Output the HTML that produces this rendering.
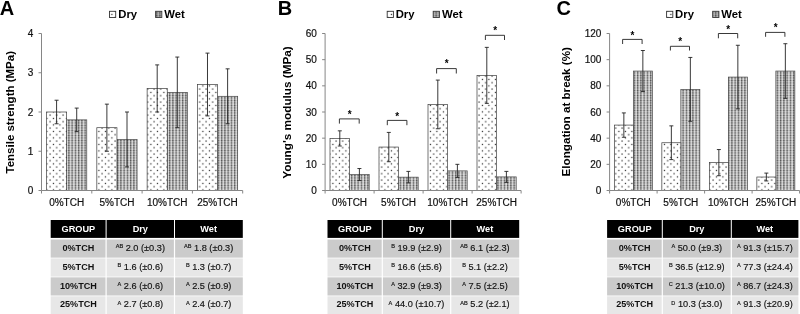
<!DOCTYPE html>
<html><head><meta charset="utf-8"><title>Figure</title>
<style>
html,body{margin:0;padding:0;background:#fff;}
body{width:800px;height:314px;overflow:hidden;}
svg{display:block;font-family:"Liberation Sans",Arial,sans-serif;}
.t{font-size:10px;fill:#111;stroke:#111;stroke-width:0.2px;}
.yl{font-size:11.7px;font-weight:bold;fill:#000;}
.lg{font-size:11.3px;font-weight:bold;fill:#000;}
.pl{font-size:20px;font-weight:bold;fill:#000;}
.st{font-size:10px;font-weight:bold;fill:#000;}
.th{font-size:9.2px;font-weight:bold;fill:#fff;}
.tg{font-size:9.1px;font-weight:bold;fill:#111;}
.td{font-size:9.2px;fill:#111;stroke:#111;stroke-width:0.15px;}
.sup{font-size:5.6px;}
</style></head><body>
<svg width="800" height="314" viewBox="0 0 800 314">
<defs>
<pattern id="pd" width="6.5" height="6.5" patternUnits="userSpaceOnUse">
<rect width="6.5" height="6.5" fill="#fff"/>
<rect x="0.8" y="0.8" width="1.2" height="1.2" fill="#1c1c1c"/>
<rect x="4.05" y="4.05" width="1.2" height="1.2" fill="#1c1c1c"/>
</pattern>
<pattern id="pw" width="3.25" height="2.5" patternUnits="userSpaceOnUse">
<rect width="3.25" height="2.5" fill="#dcdcdc"/>
<rect x="0" y="0" width="1.3" height="2.5" fill="#868686"/>
<rect x="0" y="0" width="3.25" height="0.9" fill="#c0c0c0"/>
<rect x="0" y="0" width="1.3" height="0.9" fill="#505050"/>
</pattern>
</defs>
<rect width="800" height="314" fill="#fff"/>

<g>
<text class="pl" x="-0.3" y="14.7">A</text>
<rect x="109.5" y="11.3" width="6.2" height="6.2" fill="url(#pd)" stroke="#333" stroke-width="0.9"/>
<text class="lg" x="118.3" y="17.6">Dry</text>
<rect x="155.6" y="11.3" width="6.2" height="6.2" fill="url(#pw)" stroke="#333" stroke-width="0.9"/><rect x="155.6" y="11.3" width="6.2" height="6.2" fill="#555" fill-opacity="0.3"/>
<text class="lg" x="164.3" y="17.6">Wet</text>
<text class="yl" textLength="122.5" lengthAdjust="spacingAndGlyphs" transform="translate(14,173.5) rotate(-90)">Tensile strength (MPa)</text>
<rect x="66.65" y="119.85" width="20.12" height="70.65" fill="url(#pw)" stroke="#484848" stroke-width="0.7"/>
<path d="M76.71 108.08V131.62M74.71 108.08h4M74.71 131.62h4" stroke="#222" stroke-width="0.9" fill="none"/>
<rect x="46.53" y="112" width="20.12" height="78.5" fill="url(#pd)" stroke="#3c3c3c" stroke-width="0.7"/>
<path d="M56.59 100.23V123.78M54.59 100.23h4M54.59 123.78h4" stroke="#222" stroke-width="0.9" fill="none"/>
<text class="t" text-anchor="middle" x="66.65" y="206.2">0%TCH</text>
<rect x="116.95" y="139.47" width="20.12" height="51.03" fill="url(#pw)" stroke="#484848" stroke-width="0.7"/>
<path d="M127.01 112V166.95M125.01 112h4M125.01 166.95h4" stroke="#222" stroke-width="0.9" fill="none"/>
<rect x="96.83" y="127.7" width="20.12" height="62.8" fill="url(#pd)" stroke="#3c3c3c" stroke-width="0.7"/>
<path d="M106.89 104.15V151.25M104.89 104.15h4M104.89 151.25h4" stroke="#222" stroke-width="0.9" fill="none"/>
<text class="t" text-anchor="middle" x="116.95" y="206.2">5%TCH</text>
<rect x="167.25" y="92.38" width="20.12" height="98.12" fill="url(#pw)" stroke="#484848" stroke-width="0.7"/>
<path d="M177.31 57.05V127.7M175.31 57.05h4M175.31 127.7h4" stroke="#222" stroke-width="0.9" fill="none"/>
<rect x="147.13" y="88.45" width="20.12" height="102.05" fill="url(#pd)" stroke="#3c3c3c" stroke-width="0.7"/>
<path d="M157.19 64.9V112M155.19 64.9h4M155.19 112h4" stroke="#222" stroke-width="0.9" fill="none"/>
<text class="t" text-anchor="middle" x="167.25" y="206.2">10%TCH</text>
<rect x="217.55" y="96.3" width="20.12" height="94.2" fill="url(#pw)" stroke="#484848" stroke-width="0.7"/>
<path d="M227.61 68.83V123.78M225.61 68.83h4M225.61 123.78h4" stroke="#222" stroke-width="0.9" fill="none"/>
<rect x="197.43" y="84.52" width="20.12" height="105.98" fill="url(#pd)" stroke="#3c3c3c" stroke-width="0.7"/>
<path d="M207.49 53.12V115.92M205.49 53.12h4M205.49 115.92h4" stroke="#222" stroke-width="0.9" fill="none"/>
<text class="t" text-anchor="middle" x="217.55" y="206.2">25%TCH</text>
<text class="t" text-anchor="end" x="33.3" y="194.1">0</text>
<text class="t" text-anchor="end" x="33.3" y="154.85">1</text>
<text class="t" text-anchor="end" x="33.3" y="115.6">2</text>
<text class="t" text-anchor="end" x="33.3" y="76.35">3</text>
<text class="t" text-anchor="end" x="33.3" y="37.1">4</text>
<path d="M41.5 33.5V190.5H242.7M41.5 190.5h-3M41.5 151.25h-3M41.5 112h-3M41.5 72.75h-3M41.5 33.5h-3M41.5 190.5v3M91.8 190.5v3M142.1 190.5v3M192.4 190.5v3M242.7 190.5v3" stroke="#868686" stroke-width="1" fill="none"/>
<rect x="50.7" y="220" width="54.9" height="17.9" fill="#000"/>
<text class="th" text-anchor="middle" x="78.4" y="231.8">GROUP</text>
<rect x="106.6" y="220" width="67.4" height="17.9" fill="#000"/>
<text class="th" text-anchor="middle" x="140.3" y="231.8">Dry</text>
<rect x="175" y="220" width="67.8" height="17.9" fill="#000"/>
<text class="th" text-anchor="middle" x="208.65" y="231.8">Wet</text>
<rect x="50.7" y="239.5" width="54.8" height="18.13" fill="#cbcbcb"/>
<rect x="106.7" y="239.5" width="67.2" height="18.13" fill="#cbcbcb"/>
<rect x="175.1" y="239.5" width="67.7" height="18.13" fill="#cbcbcb"/>
<text class="tg" text-anchor="middle" x="78.4" y="250.65">0%TCH</text>
<text class="td" text-anchor="middle" x="140.3" y="250.65"><tspan class="sup" dy="-2.8">AB</tspan><tspan dy="2.8"> 2.0 (±0.3)</tspan></text>
<text class="td" text-anchor="middle" x="208.65" y="250.65"><tspan class="sup" dy="-2.8">AB</tspan><tspan dy="2.8"> 1.8 (±0.3)</tspan></text>
<rect x="50.7" y="258.43" width="54.8" height="18.13" fill="#e7e7e7"/>
<rect x="106.7" y="258.43" width="67.2" height="18.13" fill="#e7e7e7"/>
<rect x="175.1" y="258.43" width="67.7" height="18.13" fill="#e7e7e7"/>
<text class="tg" text-anchor="middle" x="78.4" y="269.58">5%TCH</text>
<text class="td" text-anchor="middle" x="140.3" y="269.58"><tspan class="sup" dy="-2.8">B</tspan><tspan dy="2.8"> 1.6 (±0.6)</tspan></text>
<text class="td" text-anchor="middle" x="208.65" y="269.58"><tspan class="sup" dy="-2.8">B</tspan><tspan dy="2.8"> 1.3 (±0.7)</tspan></text>
<rect x="50.7" y="277.36" width="54.8" height="18.13" fill="#cbcbcb"/>
<rect x="106.7" y="277.36" width="67.2" height="18.13" fill="#cbcbcb"/>
<rect x="175.1" y="277.36" width="67.7" height="18.13" fill="#cbcbcb"/>
<text class="tg" text-anchor="middle" x="78.4" y="288.51">10%TCH</text>
<text class="td" text-anchor="middle" x="140.3" y="288.51"><tspan class="sup" dy="-2.8">A</tspan><tspan dy="2.8"> 2.6 (±0.6)</tspan></text>
<text class="td" text-anchor="middle" x="208.65" y="288.51"><tspan class="sup" dy="-2.8">A</tspan><tspan dy="2.8"> 2.5 (±0.9)</tspan></text>
<rect x="50.7" y="296.29" width="54.8" height="18.13" fill="#e7e7e7"/>
<rect x="106.7" y="296.29" width="67.2" height="18.13" fill="#e7e7e7"/>
<rect x="175.1" y="296.29" width="67.7" height="18.13" fill="#e7e7e7"/>
<text class="tg" text-anchor="middle" x="78.4" y="307.44">25%TCH</text>
<text class="td" text-anchor="middle" x="140.3" y="307.44"><tspan class="sup" dy="-2.8">A</tspan><tspan dy="2.8"> 2.7 (±0.8)</tspan></text>
<text class="td" text-anchor="middle" x="208.65" y="307.44"><tspan class="sup" dy="-2.8">A</tspan><tspan dy="2.8"> 2.4 (±0.7)</tspan></text>
</g>
<g>
<text class="pl" x="277.7" y="14.7">B</text>
<rect x="387.2" y="11.3" width="6.2" height="6.2" fill="url(#pd)" stroke="#333" stroke-width="0.9"/>
<text class="lg" x="395.7" y="17.6">Dry</text>
<rect x="433.2" y="11.3" width="6.2" height="6.2" fill="url(#pw)" stroke="#333" stroke-width="0.9"/><rect x="433.2" y="11.3" width="6.2" height="6.2" fill="#555" fill-opacity="0.3"/>
<text class="lg" x="442" y="17.6">Wet</text>
<text class="yl" textLength="132.5" lengthAdjust="spacingAndGlyphs" transform="translate(290.6,178.7) rotate(-90)">Young's modulus (MPa)</text>
<rect x="349.6" y="174.54" width="19.6" height="15.96" fill="url(#pw)" stroke="#484848" stroke-width="0.7"/>
<path d="M359.4 168.52V180.56M357.4 168.52h4M357.4 180.56h4" stroke="#222" stroke-width="0.9" fill="none"/>
<rect x="330" y="138.43" width="19.6" height="52.07" fill="url(#pd)" stroke="#3c3c3c" stroke-width="0.7"/>
<path d="M339.8 130.84V146.02M337.8 130.84h4M337.8 146.02h4" stroke="#222" stroke-width="0.9" fill="none"/>
<text class="t" text-anchor="middle" x="349.6" y="206.2">0%TCH</text>
<path d="M339.4 123.6V118.9H359.2V123.6" stroke="#222" stroke-width="0.9" fill="none"/>
<text class="st" text-anchor="middle" x="349.6" y="118">*</text>
<rect x="398.6" y="177.16" width="19.6" height="13.34" fill="url(#pw)" stroke="#484848" stroke-width="0.7"/>
<path d="M408.4 171.4V182.91M406.4 171.4h4M406.4 182.91h4" stroke="#222" stroke-width="0.9" fill="none"/>
<rect x="379" y="147.06" width="19.6" height="43.44" fill="url(#pd)" stroke="#3c3c3c" stroke-width="0.7"/>
<path d="M388.8 132.41V161.72M386.8 132.41h4M386.8 161.72h4" stroke="#222" stroke-width="0.9" fill="none"/>
<text class="t" text-anchor="middle" x="398.6" y="206.2">5%TCH</text>
<path d="M387.3 125.2V120.4H406.9V125.2" stroke="#222" stroke-width="0.9" fill="none"/>
<text class="st" text-anchor="middle" x="397.3" y="119.6">*</text>
<rect x="447.6" y="170.88" width="19.6" height="19.62" fill="url(#pw)" stroke="#484848" stroke-width="0.7"/>
<path d="M457.4 164.33V177.42M455.4 164.33h4M455.4 177.42h4" stroke="#222" stroke-width="0.9" fill="none"/>
<rect x="428" y="104.41" width="19.6" height="86.09" fill="url(#pd)" stroke="#3c3c3c" stroke-width="0.7"/>
<path d="M437.8 80.08V128.75M435.8 80.08h4M435.8 128.75h4" stroke="#222" stroke-width="0.9" fill="none"/>
<text class="t" text-anchor="middle" x="447.6" y="206.2">10%TCH</text>
<path d="M436.6 73.5V68.6H456.3V73.5" stroke="#222" stroke-width="0.9" fill="none"/>
<text class="st" text-anchor="middle" x="446.6" y="67.3">*</text>
<rect x="496.6" y="176.89" width="19.6" height="13.61" fill="url(#pw)" stroke="#484848" stroke-width="0.7"/>
<path d="M506.4 171.4V182.39M504.4 171.4h4M504.4 182.39h4" stroke="#222" stroke-width="0.9" fill="none"/>
<rect x="477" y="75.37" width="19.6" height="115.13" fill="url(#pd)" stroke="#3c3c3c" stroke-width="0.7"/>
<path d="M486.8 47.37V103.37M484.8 47.37h4M484.8 103.37h4" stroke="#222" stroke-width="0.9" fill="none"/>
<text class="t" text-anchor="middle" x="496.6" y="206.2">25%TCH</text>
<path d="M485.4 40V35.3H504.5V40" stroke="#222" stroke-width="0.9" fill="none"/>
<text class="st" text-anchor="middle" x="495.3" y="34.4">*</text>
<text class="t" text-anchor="end" x="316.9" y="194.1">0</text>
<text class="t" text-anchor="end" x="316.9" y="167.93">10</text>
<text class="t" text-anchor="end" x="316.9" y="141.77">20</text>
<text class="t" text-anchor="end" x="316.9" y="115.6">30</text>
<text class="t" text-anchor="end" x="316.9" y="89.43">40</text>
<text class="t" text-anchor="end" x="316.9" y="63.27">50</text>
<text class="t" text-anchor="end" x="316.9" y="37.1">60</text>
<path d="M325.1 33.5V190.5H521.1M325.1 190.5h-3M325.1 164.33h-3M325.1 138.17h-3M325.1 112h-3M325.1 85.83h-3M325.1 59.67h-3M325.1 33.5h-3M325.1 190.5v3M374.1 190.5v3M423.1 190.5v3M472.1 190.5v3M521.1 190.5v3" stroke="#868686" stroke-width="1" fill="none"/>
<rect x="327.5" y="220" width="54.3" height="17.9" fill="#000"/>
<text class="th" text-anchor="middle" x="354.9" y="231.8">GROUP</text>
<rect x="382.8" y="220" width="67.4" height="17.9" fill="#000"/>
<text class="th" text-anchor="middle" x="416.5" y="231.8">Dry</text>
<rect x="451.2" y="220" width="68" height="17.9" fill="#000"/>
<text class="th" text-anchor="middle" x="484.95" y="231.8">Wet</text>
<rect x="327.5" y="239.5" width="54.2" height="18.13" fill="#cbcbcb"/>
<rect x="382.9" y="239.5" width="67.2" height="18.13" fill="#cbcbcb"/>
<rect x="451.3" y="239.5" width="67.9" height="18.13" fill="#cbcbcb"/>
<text class="tg" text-anchor="middle" x="354.9" y="250.65">0%TCH</text>
<text class="td" text-anchor="middle" x="416.5" y="250.65"><tspan class="sup" dy="-2.8">B</tspan><tspan dy="2.8"> 19.9 (±2.9)</tspan></text>
<text class="td" text-anchor="middle" x="484.95" y="250.65"><tspan class="sup" dy="-2.8">AB</tspan><tspan dy="2.8"> 6.1 (±2.3)</tspan></text>
<rect x="327.5" y="258.43" width="54.2" height="18.13" fill="#e7e7e7"/>
<rect x="382.9" y="258.43" width="67.2" height="18.13" fill="#e7e7e7"/>
<rect x="451.3" y="258.43" width="67.9" height="18.13" fill="#e7e7e7"/>
<text class="tg" text-anchor="middle" x="354.9" y="269.58">5%TCH</text>
<text class="td" text-anchor="middle" x="416.5" y="269.58"><tspan class="sup" dy="-2.8">B</tspan><tspan dy="2.8"> 16.6 (±5.6)</tspan></text>
<text class="td" text-anchor="middle" x="484.95" y="269.58"><tspan class="sup" dy="-2.8">B</tspan><tspan dy="2.8"> 5.1 (±2.2)</tspan></text>
<rect x="327.5" y="277.36" width="54.2" height="18.13" fill="#cbcbcb"/>
<rect x="382.9" y="277.36" width="67.2" height="18.13" fill="#cbcbcb"/>
<rect x="451.3" y="277.36" width="67.9" height="18.13" fill="#cbcbcb"/>
<text class="tg" text-anchor="middle" x="354.9" y="288.51">10%TCH</text>
<text class="td" text-anchor="middle" x="416.5" y="288.51"><tspan class="sup" dy="-2.8">A</tspan><tspan dy="2.8"> 32.9 (±9.3)</tspan></text>
<text class="td" text-anchor="middle" x="484.95" y="288.51"><tspan class="sup" dy="-2.8">A</tspan><tspan dy="2.8"> 7.5 (±2.5)</tspan></text>
<rect x="327.5" y="296.29" width="54.2" height="18.13" fill="#e7e7e7"/>
<rect x="382.9" y="296.29" width="67.2" height="18.13" fill="#e7e7e7"/>
<rect x="451.3" y="296.29" width="67.9" height="18.13" fill="#e7e7e7"/>
<text class="tg" text-anchor="middle" x="354.9" y="307.44">25%TCH</text>
<text class="td" text-anchor="middle" x="416.5" y="307.44"><tspan class="sup" dy="-2.8">A</tspan><tspan dy="2.8"> 44.0 (±10.7)</tspan></text>
<text class="td" text-anchor="middle" x="484.95" y="307.44"><tspan class="sup" dy="-2.8">AB</tspan><tspan dy="2.8"> 5.2 (±2.1)</tspan></text>
</g>
<g>
<text class="pl" x="556.5" y="14.7">C</text>
<rect x="666.6" y="11.3" width="6.2" height="6.2" fill="url(#pd)" stroke="#333" stroke-width="0.9"/>
<text class="lg" x="675.1" y="17.6">Dry</text>
<rect x="712.7" y="11.3" width="6.2" height="6.2" fill="url(#pw)" stroke="#333" stroke-width="0.9"/><rect x="712.7" y="11.3" width="6.2" height="6.2" fill="#555" fill-opacity="0.3"/>
<text class="lg" x="721.2" y="17.6">Wet</text>
<text class="yl" textLength="129.3" lengthAdjust="spacingAndGlyphs" transform="translate(570.3,176.4) rotate(-90)">Elongation at break (%)</text>
<rect x="633.35" y="71.05" width="19" height="119.45" fill="url(#pw)" stroke="#484848" stroke-width="0.7"/>
<path d="M642.85 50.51V91.59M640.85 50.51h4M640.85 91.59h4" stroke="#222" stroke-width="0.9" fill="none"/>
<rect x="614.35" y="125.08" width="19" height="65.42" fill="url(#pd)" stroke="#3c3c3c" stroke-width="0.7"/>
<path d="M623.85 112.92V137.25M621.85 112.92h4M621.85 137.25h4" stroke="#222" stroke-width="0.9" fill="none"/>
<text class="t" text-anchor="middle" x="633.35" y="206.2">0%TCH</text>
<path d="M622.6 44V39.4H642.1V44" stroke="#222" stroke-width="0.9" fill="none"/>
<text class="st" text-anchor="middle" x="632.5" y="38.6">*</text>
<rect x="680.85" y="89.37" width="19" height="101.13" fill="url(#pw)" stroke="#484848" stroke-width="0.7"/>
<path d="M690.35 57.44V121.29M688.35 57.44h4M688.35 121.29h4" stroke="#222" stroke-width="0.9" fill="none"/>
<rect x="661.85" y="142.75" width="19" height="47.75" fill="url(#pd)" stroke="#3c3c3c" stroke-width="0.7"/>
<path d="M671.35 125.87V159.62M669.35 125.87h4M669.35 159.62h4" stroke="#222" stroke-width="0.9" fill="none"/>
<text class="t" text-anchor="middle" x="680.85" y="206.2">5%TCH</text>
<path d="M670.4 50.5V46.3H689.5V50.5" stroke="#222" stroke-width="0.9" fill="none"/>
<text class="st" text-anchor="middle" x="680.3" y="45.2">*</text>
<rect x="728.35" y="77.07" width="19" height="113.43" fill="url(#pw)" stroke="#484848" stroke-width="0.7"/>
<path d="M737.85 45.28V108.86M735.85 45.28h4M735.85 108.86h4" stroke="#222" stroke-width="0.9" fill="none"/>
<rect x="709.35" y="162.63" width="19" height="27.87" fill="url(#pd)" stroke="#3c3c3c" stroke-width="0.7"/>
<path d="M718.85 149.55V175.72M716.85 149.55h4M716.85 175.72h4" stroke="#222" stroke-width="0.9" fill="none"/>
<text class="t" text-anchor="middle" x="728.35" y="206.2">10%TCH</text>
<path d="M718.4 38.3V33.5H737.7V38.3" stroke="#222" stroke-width="0.9" fill="none"/>
<text class="st" text-anchor="middle" x="728.3" y="33.2">*</text>
<rect x="775.85" y="71.05" width="19" height="119.45" fill="url(#pw)" stroke="#484848" stroke-width="0.7"/>
<path d="M785.35 43.71V98.39M783.35 43.71h4M783.35 98.39h4" stroke="#222" stroke-width="0.9" fill="none"/>
<rect x="756.85" y="177.02" width="19" height="13.48" fill="url(#pd)" stroke="#3c3c3c" stroke-width="0.7"/>
<path d="M766.35 173.1V180.95M764.35 173.1h4M764.35 180.95h4" stroke="#222" stroke-width="0.9" fill="none"/>
<text class="t" text-anchor="middle" x="775.85" y="206.2">25%TCH</text>
<path d="M765.6 36.8V32.4H784.9V36.8" stroke="#222" stroke-width="0.9" fill="none"/>
<text class="st" text-anchor="middle" x="775.7" y="30.9">*</text>
<text class="t" text-anchor="end" x="601.4" y="194.1">0</text>
<text class="t" text-anchor="end" x="601.4" y="167.93">20</text>
<text class="t" text-anchor="end" x="601.4" y="141.77">40</text>
<text class="t" text-anchor="end" x="601.4" y="115.6">60</text>
<text class="t" text-anchor="end" x="601.4" y="89.43">80</text>
<text class="t" text-anchor="end" x="601.4" y="63.27">100</text>
<text class="t" text-anchor="end" x="601.4" y="37.1">120</text>
<path d="M609.6 33.5V190.5H799.6M609.6 190.5h-3M609.6 164.33h-3M609.6 138.17h-3M609.6 112h-3M609.6 85.83h-3M609.6 59.67h-3M609.6 33.5h-3M609.6 190.5v3M657.1 190.5v3M704.6 190.5v3M752.1 190.5v3M799.6 190.5v3" stroke="#868686" stroke-width="1" fill="none"/>
<rect x="607.1" y="220" width="54.7" height="17.9" fill="#000"/>
<text class="th" text-anchor="middle" x="634.7" y="231.8">GROUP</text>
<rect x="662.8" y="220" width="68" height="17.9" fill="#000"/>
<text class="th" text-anchor="middle" x="696.8" y="231.8">Dry</text>
<rect x="731.8" y="220" width="66.6" height="17.9" fill="#000"/>
<text class="th" text-anchor="middle" x="764.85" y="231.8">Wet</text>
<rect x="607.1" y="239.5" width="54.6" height="18.13" fill="#cbcbcb"/>
<rect x="662.9" y="239.5" width="67.8" height="18.13" fill="#cbcbcb"/>
<rect x="731.9" y="239.5" width="66.5" height="18.13" fill="#cbcbcb"/>
<text class="tg" text-anchor="middle" x="634.7" y="250.65">0%TCH</text>
<text class="td" text-anchor="middle" x="696.8" y="250.65"><tspan class="sup" dy="-2.8">A</tspan><tspan dy="2.8"> 50.0 (±9.3)</tspan></text>
<text class="td" text-anchor="middle" x="764.85" y="250.65"><tspan class="sup" dy="-2.8">A</tspan><tspan dy="2.8"> 91.3 (±15.7)</tspan></text>
<rect x="607.1" y="258.43" width="54.6" height="18.13" fill="#e7e7e7"/>
<rect x="662.9" y="258.43" width="67.8" height="18.13" fill="#e7e7e7"/>
<rect x="731.9" y="258.43" width="66.5" height="18.13" fill="#e7e7e7"/>
<text class="tg" text-anchor="middle" x="634.7" y="269.58">5%TCH</text>
<text class="td" text-anchor="middle" x="696.8" y="269.58"><tspan class="sup" dy="-2.8">B</tspan><tspan dy="2.8"> 36.5 (±12.9)</tspan></text>
<text class="td" text-anchor="middle" x="764.85" y="269.58"><tspan class="sup" dy="-2.8">A</tspan><tspan dy="2.8"> 77.3 (±24.4)</tspan></text>
<rect x="607.1" y="277.36" width="54.6" height="18.13" fill="#cbcbcb"/>
<rect x="662.9" y="277.36" width="67.8" height="18.13" fill="#cbcbcb"/>
<rect x="731.9" y="277.36" width="66.5" height="18.13" fill="#cbcbcb"/>
<text class="tg" text-anchor="middle" x="634.7" y="288.51">10%TCH</text>
<text class="td" text-anchor="middle" x="696.8" y="288.51"><tspan class="sup" dy="-2.8">C</tspan><tspan dy="2.8"> 21.3 (±10.0)</tspan></text>
<text class="td" text-anchor="middle" x="764.85" y="288.51"><tspan class="sup" dy="-2.8">A</tspan><tspan dy="2.8"> 86.7 (±24.3)</tspan></text>
<rect x="607.1" y="296.29" width="54.6" height="18.13" fill="#e7e7e7"/>
<rect x="662.9" y="296.29" width="67.8" height="18.13" fill="#e7e7e7"/>
<rect x="731.9" y="296.29" width="66.5" height="18.13" fill="#e7e7e7"/>
<text class="tg" text-anchor="middle" x="634.7" y="307.44">25%TCH</text>
<text class="td" text-anchor="middle" x="696.8" y="307.44"><tspan class="sup" dy="-2.8">D</tspan><tspan dy="2.8"> 10.3 (±3.0)</tspan></text>
<text class="td" text-anchor="middle" x="764.85" y="307.44"><tspan class="sup" dy="-2.8">A</tspan><tspan dy="2.8"> 91.3 (±20.9)</tspan></text>
</g>
</svg>
</body></html>
